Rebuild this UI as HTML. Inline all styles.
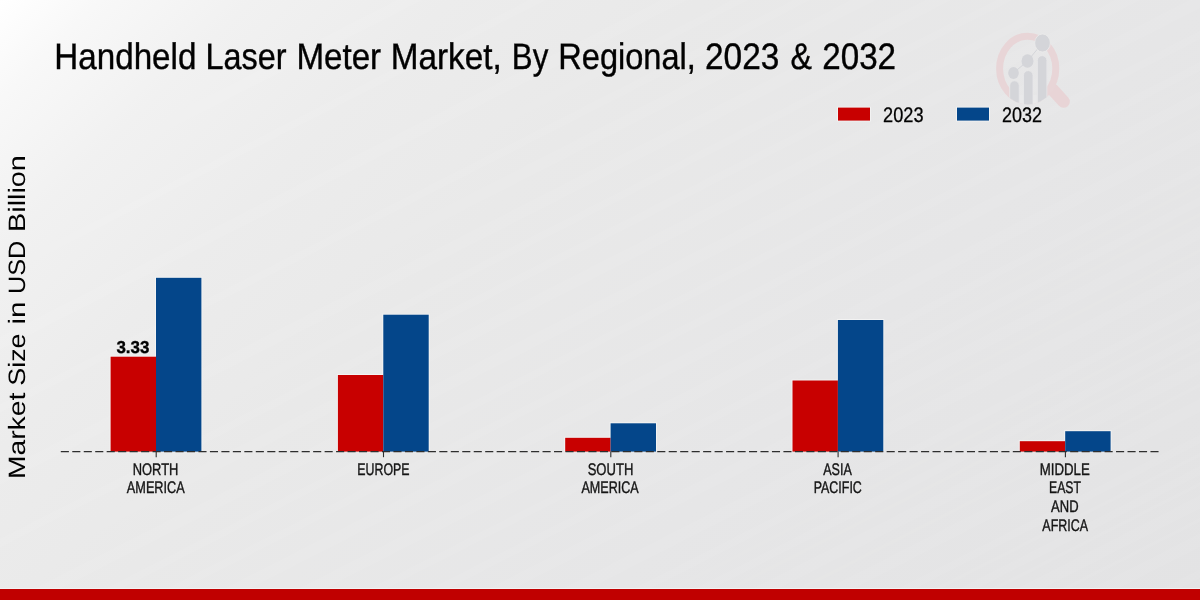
<!DOCTYPE html>
<html><head><meta charset="utf-8"><title>Handheld Laser Meter Market</title>
<style>
html,body{margin:0;padding:0;background:#e8e8e8;}
body{width:1200px;height:600px;overflow:hidden;font-family:"Liberation Sans",sans-serif;}
svg{display:block;font-family:"Liberation Sans",sans-serif;text-rendering:geometricPrecision;}
</style></head><body>
<svg width="1200" height="600" viewBox="0 0 1200 600">
<defs>
<linearGradient id="bg" gradientUnits="userSpaceOnUse" x1="0" y1="0" x2="900" y2="900">
<stop offset="0.0000" stop-color="#ffffff"/>
<stop offset="0.0556" stop-color="#f8f8f8"/>
<stop offset="0.1389" stop-color="#f1f1f1"/>
<stop offset="0.2500" stop-color="#ececec"/>
<stop offset="0.3889" stop-color="#e9e9e9"/>
<stop offset="0.6667" stop-color="#e6e6e7"/>
<stop offset="1.0000" stop-color="#e3e3e4"/>
</linearGradient>
<pattern id="streaks" patternUnits="userSpaceOnUse" width="400" height="120" patternTransform="rotate(-27)">
<rect x="0" y="0" width="400" height="8" fill="#fff" fill-opacity="0.03"/>
<rect x="0" y="14" width="400" height="4" fill="#fff" fill-opacity="0.02"/>
<rect x="0" y="26" width="400" height="12" fill="#fff" fill-opacity="0.025"/>
<rect x="0" y="46" width="400" height="4" fill="#fff" fill-opacity="0.02"/>
<rect x="0" y="60" width="400" height="12" fill="#fff" fill-opacity="0.03"/>
<rect x="0" y="80" width="400" height="4" fill="#fff" fill-opacity="0.015"/>
<rect x="0" y="92" width="400" height="8" fill="#fff" fill-opacity="0.025"/>
<rect x="0" y="108" width="400" height="4" fill="#fff" fill-opacity="0.02"/>
</pattern>
<clipPath id="lens"><ellipse cx="1027.7" cy="68.6" rx="31.4" ry="35.8"/></clipPath>
</defs>

<rect x="0" y="0" width="1200" height="600" fill="url(#bg)"/>
<rect x="0" y="0" width="1200" height="600" fill="url(#streaks)"/>
<g id="logo">
<line x1="1053" y1="90" x2="1063.6" y2="101.6" stroke="#e8d4d6" stroke-width="12.5" stroke-linecap="round"/>
<ellipse cx="1027.7" cy="68.6" rx="28.1" ry="32.4" fill="none" stroke="#e8d5d7" stroke-width="7"/>
<g clip-path="url(#lens)" fill="#d4d5d9" stroke="#e9e9ea" stroke-width="0.8">
<rect x="1010" y="95" width="36.5" height="12" fill="#e9e9ea" stroke="none"/>
<rect x="1009.7" y="80.8" width="9.5" height="40" rx="4.7"/>
<rect x="1023.5" y="70.7" width="9.5" height="50" rx="4.7"/>
<rect x="1037.4" y="55.7" width="9.5" height="60" rx="4.7"/>
</g>
<polyline points="1013.5,73 1027.5,61 1042.5,43" fill="none" stroke="#d4d5d9" stroke-width="1"/>
<ellipse cx="1013.5" cy="73" rx="5.3" ry="6" fill="#d4d5d9"/>
<ellipse cx="1027.5" cy="61" rx="6" ry="6.8" fill="#d4d5d9"/>
<ellipse cx="1042.5" cy="43" rx="7.8" ry="9" fill="#d4d5d9" stroke="#ebebeb" stroke-width="0.8"/>
</g>

<g opacity="0.999">
<text x="54.32" y="68.70" font-size="36.9" font-weight="normal" fill="#000" stroke="#000" stroke-width="0.4" textLength="142.06" lengthAdjust="spacingAndGlyphs">Handheld</text>
<text x="205.49" y="68.70" font-size="36.9" font-weight="normal" fill="#000" stroke="#000" stroke-width="0.4" textLength="81.00" lengthAdjust="spacingAndGlyphs">Laser</text>
<text x="296.40" y="68.70" font-size="36.9" font-weight="normal" fill="#000" stroke="#000" stroke-width="0.4" textLength="84.73" lengthAdjust="spacingAndGlyphs">Meter</text>
<text x="390.75" y="68.70" font-size="36.9" font-weight="normal" fill="#000" stroke="#000" stroke-width="0.4" textLength="111.04" lengthAdjust="spacingAndGlyphs">Market,</text>
<text x="511.83" y="68.70" font-size="36.9" font-weight="normal" fill="#000" stroke="#000" stroke-width="0.4" textLength="36.46" lengthAdjust="spacingAndGlyphs">By</text>
<text x="558.31" y="68.70" font-size="36.9" font-weight="normal" fill="#000" stroke="#000" stroke-width="0.4" textLength="137.54" lengthAdjust="spacingAndGlyphs">Regional,</text>
<text x="704.99" y="68.70" font-size="36.9" font-weight="normal" fill="#000" stroke="#000" stroke-width="0.4" textLength="74.42" lengthAdjust="spacingAndGlyphs">2023</text>
<text x="790.42" y="68.70" font-size="36.9" font-weight="normal" fill="#000" stroke="#000" stroke-width="0.4" textLength="21.38" lengthAdjust="spacingAndGlyphs">&amp;</text>
<text x="822.28" y="68.70" font-size="36.9" font-weight="normal" fill="#000" stroke="#000" stroke-width="0.4" textLength="73.80" lengthAdjust="spacingAndGlyphs">2032</text>
<text transform="translate(25,479.02) rotate(-90)" font-size="23.7" font-weight="normal" fill="#000" textLength="86.32" lengthAdjust="spacingAndGlyphs">Market</text>
<text transform="translate(25,385.73) rotate(-90)" font-size="23.7" font-weight="normal" fill="#000" textLength="52.27" lengthAdjust="spacingAndGlyphs">Size</text>
<text transform="translate(25,324.61) rotate(-90)" font-size="23.7" font-weight="normal" fill="#000" textLength="23.14" lengthAdjust="spacingAndGlyphs">in</text>
<text transform="translate(25,293.93) rotate(-90)" font-size="23.7" font-weight="normal" fill="#000" textLength="53.23" lengthAdjust="spacingAndGlyphs">USD</text>
<text transform="translate(25,231.90) rotate(-90)" font-size="23.7" font-weight="normal" fill="#000" textLength="76.77" lengthAdjust="spacingAndGlyphs">Billion</text>
<text x="883.12" y="121.70" font-size="21" font-weight="normal" fill="#000" stroke="#000" stroke-width="0.3" textLength="40.40" lengthAdjust="spacingAndGlyphs">2023</text>
<text x="1001.98" y="121.70" font-size="21" font-weight="normal" fill="#000" stroke="#000" stroke-width="0.3" textLength="39.92" lengthAdjust="spacingAndGlyphs">2032</text>
<text x="116.44" y="353.00" font-size="17.2" font-weight="bold" fill="#000" stroke="#000" stroke-width="0.35" textLength="32.99" lengthAdjust="spacingAndGlyphs">3.33</text>
<text x="132.76" y="474.60" font-size="16.8" font-weight="normal" fill="#151515" stroke="#151515" stroke-width="0.4" textLength="45.64" lengthAdjust="spacingAndGlyphs">NORTH</text>
<text x="126.82" y="493.10" font-size="16.8" font-weight="normal" fill="#151515" stroke="#151515" stroke-width="0.4" textLength="57.93" lengthAdjust="spacingAndGlyphs">AMERICA</text>
<text x="357.32" y="474.60" font-size="16.8" font-weight="normal" fill="#151515" stroke="#151515" stroke-width="0.4" textLength="52.29" lengthAdjust="spacingAndGlyphs">EUROPE</text>
<text x="587.66" y="474.60" font-size="16.8" font-weight="normal" fill="#151515" stroke="#151515" stroke-width="0.4" textLength="45.65" lengthAdjust="spacingAndGlyphs">SOUTH</text>
<text x="581.41" y="493.10" font-size="16.8" font-weight="normal" fill="#151515" stroke="#151515" stroke-width="0.4" textLength="57.25" lengthAdjust="spacingAndGlyphs">AMERICA</text>
<text x="823.19" y="474.60" font-size="16.8" font-weight="normal" fill="#151515" stroke="#151515" stroke-width="0.4" textLength="28.56" lengthAdjust="spacingAndGlyphs">ASIA</text>
<text x="813.70" y="493.10" font-size="16.8" font-weight="normal" fill="#151515" stroke="#151515" stroke-width="0.4" textLength="48.12" lengthAdjust="spacingAndGlyphs">PACIFIC</text>
<text x="1039.72" y="474.60" font-size="16.8" font-weight="normal" fill="#151515" stroke="#151515" stroke-width="0.4" textLength="50.03" lengthAdjust="spacingAndGlyphs">MIDDLE</text>
<text x="1048.98" y="493.10" font-size="16.8" font-weight="normal" fill="#151515" stroke="#151515" stroke-width="0.4" textLength="31.94" lengthAdjust="spacingAndGlyphs">EAST</text>
<text x="1051.10" y="511.80" font-size="16.8" font-weight="normal" fill="#151515" stroke="#151515" stroke-width="0.4" textLength="27.46" lengthAdjust="spacingAndGlyphs">AND</text>
<text x="1042.37" y="530.60" font-size="16.8" font-weight="normal" fill="#151515" stroke="#151515" stroke-width="0.4" textLength="45.69" lengthAdjust="spacingAndGlyphs">AFRICA</text>
</g>
<rect x="837.1" y="106.7" width="33.8" height="14.8" fill="#f4f4f5" fill-opacity="0.85"/>
<rect x="956.1" y="106.7" width="33.8" height="14.8" fill="#f4f4f5" fill-opacity="0.85"/>
<rect x="838" y="107.6" width="32" height="13" fill="#c80000"/>
<rect x="957" y="107.6" width="32" height="13" fill="#04468a"/>
<path d="M109.60,451.6 V355.70 H155.00 V276.80 H202.40 V451.6 Z" fill="#f4f4f5" fill-opacity="0.85"/>
<rect x="110.60" y="356.70" width="45.40" height="94.90" fill="#c80000"/>
<rect x="156.00" y="277.80" width="45.40" height="173.80" fill="#04468a"/>
<path d="M336.90,451.6 V374.00 H382.30 V313.70 H429.70 V451.6 Z" fill="#f4f4f5" fill-opacity="0.85"/>
<rect x="337.90" y="375.00" width="45.40" height="76.60" fill="#c80000"/>
<rect x="383.30" y="314.70" width="45.40" height="136.90" fill="#04468a"/>
<path d="M564.20,451.6 V436.80 H609.60 V422.30 H657.00 V451.6 Z" fill="#f4f4f5" fill-opacity="0.85"/>
<rect x="565.20" y="437.80" width="45.40" height="13.80" fill="#c80000"/>
<rect x="610.60" y="423.30" width="45.40" height="28.30" fill="#04468a"/>
<path d="M791.50,451.6 V379.50 H836.90 V319.00 H884.30 V451.6 Z" fill="#f4f4f5" fill-opacity="0.85"/>
<rect x="792.50" y="380.50" width="45.40" height="71.10" fill="#c80000"/>
<rect x="837.90" y="320.00" width="45.40" height="131.60" fill="#04468a"/>
<path d="M1018.80,451.6 V440.20 H1064.20 V430.20 H1111.60 V451.6 Z" fill="#f4f4f5" fill-opacity="0.85"/>
<rect x="1019.80" y="441.20" width="45.40" height="10.40" fill="#c80000"/>
<rect x="1065.20" y="431.20" width="45.40" height="20.40" fill="#04468a"/>
<line x1="60.8" y1="451.70000000000005" x2="1158.6" y2="451.70000000000005" stroke="#2e2e2e" stroke-width="1.3" stroke-dasharray="8.1 3.37"/>
<line x1="156.20" y1="451.6" x2="156.20" y2="457.2" stroke="#2e2e2e" stroke-width="1.1"/>
<line x1="383.50" y1="451.6" x2="383.50" y2="457.2" stroke="#2e2e2e" stroke-width="1.1"/>
<line x1="610.80" y1="451.6" x2="610.80" y2="457.2" stroke="#2e2e2e" stroke-width="1.1"/>
<line x1="838.10" y1="451.6" x2="838.10" y2="457.2" stroke="#2e2e2e" stroke-width="1.1"/>
<line x1="1065.40" y1="451.6" x2="1065.40" y2="457.2" stroke="#2e2e2e" stroke-width="1.1"/>
<rect x="0" y="588" width="1200" height="1" fill="#f2f2f4"/>
<rect x="0" y="589" width="1200" height="11" fill="#c00000"/>
</svg></body></html>
